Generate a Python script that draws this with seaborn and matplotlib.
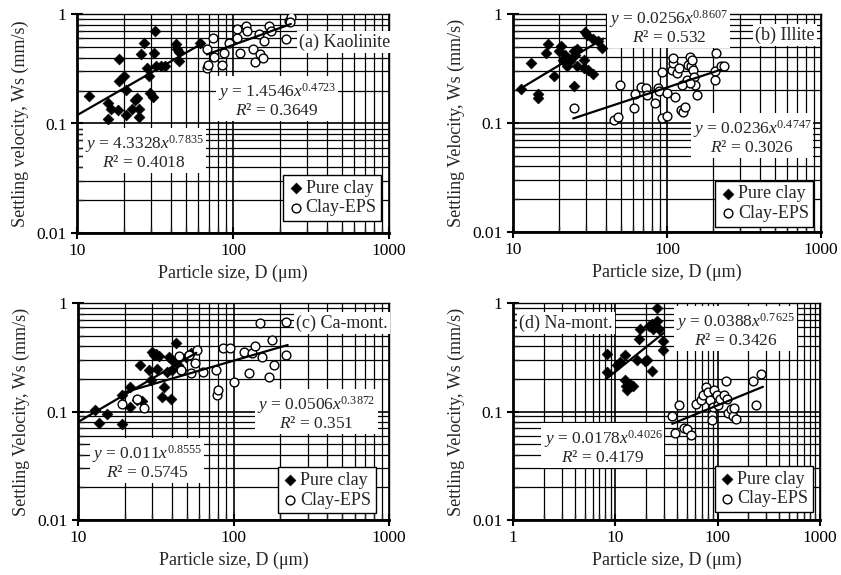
import numpy as np
import pandas as pd
import matplotlib
matplotlib.use('Agg')
import matplotlib.pyplot as plt
import matplotlib.ticker as mticker
import seaborn as sns

sns.set_theme(style='white')
plt.rcParams['font.family'] = ['Liberation Serif', 'DejaVu Serif']
plt.rcParams['mathtext.fontset'] = 'custom'
plt.rcParams['mathtext.rm'] = 'Liberation Serif'
plt.rcParams['mathtext.it'] = 'Liberation Serif:italic'

# (a) Kaolinite
kao_pure_d = [11.9, 15.9, 16.4, 15.7, 18.2, 18.5, 18.5, 20.1, 20.6, 20.5, 22.5, 23.7, 24.1, 24.9, 25.0,
              25.8, 26.7, 28.1, 28.9, 29.2, 30.7, 31.0, 31.5, 32.3, 34.3, 36.5, 43, 44, 45.3, 45.3, 61.7]
kao_pure_ws = [0.179, 0.153, 0.137, 0.111, 0.133, 0.39, 0.243, 0.27, 0.203, 0.119, 0.137, 0.164, 0.17, 0.115, 0.137,
               0.427, 0.548, 0.322, 0.27, 0.189, 0.176, 0.443, 0.70, 0.334, 0.334, 0.338, 0.529, 0.482, 0.371, 0.449, 0.548]
kao_eps_d = [68, 68, 69.5, 74.5, 75.9, 85.3, 87.4, 94.2, 106.7, 106.7, 110.8, 120.8, 123.6, 133.6, 138,
             147.5, 150, 155, 158.7, 171, 176, 220, 227, 235, 233]
kao_eps_ws = [0.482, 0.322, 0.345, 0.609, 0.407, 0.345, 0.443, 0.548, 0.737, 0.609, 0.443, 0.77, 0.70, 0.476, 0.363,
              0.654, 0.427, 0.40, 0.568, 0.78, 0.70, 0.596, 0.868, 0.93, 0.838]
kao_pure_fit_d, kao_pure_fit_ws = [10, 64.8], [0.119, 0.548]
kao_eps_fit_d, kao_eps_fit_ws = [68, 235], [0.427, 0.81]

# (b) Illite
ill_pure_d = [11.3, 13, 14.6, 14.6, 16.3, 16.9, 18.4, 19.9, 20.4, 21.2, 21.7, 22.5, 23.4, 24.9, 25.2,
              25.9, 24.9, 25.9, 28.7, 28.9, 29.3, 30.1, 30.8, 32.9, 33.2, 35.8, 37.7]
ill_pure_ws = [0.204, 0.356, 0.183, 0.168, 0.44, 0.526, 0.271, 0.456, 0.508, 0.382, 0.425, 0.331, 0.369, 0.456, 0.425,
               0.331, 0.219, 0.473, 0.382, 0.32, 0.686, 0.638, 0.308, 0.283, 0.594, 0.565, 0.49]
ill_eps_d = [24.9, 45.4, 48.4, 49.5, 61.2, 62, 67.6, 73.3, 74, 83.2, 87, 89.2, 92.7, 92.7, 100, 100, 108, 109,
             109, 113, 116, 119, 123, 127, 131, 135, 136, 140, 143, 146, 148, 150, 153, 157, 206, 206, 209,
             225, 234, 142, 125]
ill_eps_ws = [0.136, 0.107, 0.114, 0.224, 0.136, 0.183, 0.213, 0.208, 0.181, 0.151, 0.208, 0.198, 0.291, 0.112,
              0.116, 0.188, 0.308, 0.356, 0.396, 0.174, 0.288, 0.32, 0.131, 0.126, 0.141, 0.249, 0.343, 0.404,
              0.331, 0.382, 0.308, 0.267, 0.224, 0.181, 0.249, 0.298, 0.44, 0.331, 0.331, 0.235, 0.224]
ill_pure_fit_d, ill_pure_fit_ws = [10.8, 38.6], [0.201, 0.594]
ill_eps_fit_d, ill_eps_fit_ws = [24.6, 223], [0.11, 0.308]

# (c) Ca-montmorillonite
ca_pure_d = [12.8, 13.7, 15.3, 19.2, 19.2, 21.5, 21.5, 24, 25.2, 25.8, 28.6, 29.4, 30, 30.8, 31.6, 32.4, 33.2,
             34.9, 35.9, 37.6, 38.6, 39.5, 40.5, 42.7, 43.8, 46, 49.7, 53.4, 40.5]
ca_pure_ws = [0.104, 0.078, 0.095, 0.076, 0.141, 0.168, 0.11, 0.128, 0.267, 0.126, 0.24, 0.194, 0.356, 0.331,
              0.338, 0.249, 0.324, 0.136, 0.168, 0.232, 0.315, 0.131, 0.298, 0.425, 0.267, 0.24, 0.32, 0.343, 0.24]
ca_eps_d = [19.2, 24, 26.5, 44.9, 46, 52, 56.3, 58.4, 53.4, 63.6, 76.7, 77.9, 79.9, 86.1, 95, 100, 116, 126,
            131, 138, 149, 153, 169, 176, 181, 219, 219]
ca_eps_ws = [0.118, 0.131, 0.107, 0.324, 0.243, 0.331, 0.277, 0.369, 0.224, 0.232, 0.24, 0.141, 0.159, 0.382,
             0.382, 0.187, 0.356, 0.224, 0.348, 0.402, 0.652, 0.32, 0.208, 0.456, 0.267, 0.331, 0.662]
ca_pure_fit_d, ca_pure_fit_ws = [10, 57.7], [0.080, 0.348]
ca_eps_fit_d, ca_eps_fit_ws = [19.2, 223], [0.148, 0.41]

# (d) Na-montmorillonite
na_pure_d = [8.28, 8.28, 10.4, 11, 12.3, 12.3, 12.8, 13, 13.8, 14.9, 16.3, 17, 17.6, 19.7, 21.3, 23, 23.4,
             25.3, 25.3, 26.5, 29.4, 29.4, 20.5, 23]
na_pure_ws = [0.341, 0.233, 0.269, 0.283, 0.334, 0.195, 0.171, 0.157, 0.179, 0.171, 0.3, 0.461, 0.571, 0.289,
              0.614, 0.238, 0.58, 0.89, 0.684, 0.571, 0.444, 0.366, 0.3, 0.636]
na_eps_d = [36, 38, 42, 47, 50.7, 54.5, 61.2, 68.3, 72.4, 76.5, 79.8, 84.3, 87.1, 87.1, 89.3, 92.5, 98.5, 101,
            106, 116, 121, 123, 125, 135, 140, 145, 150, 221, 238, 267]
na_eps_ws = [0.09, 0.063, 0.116, 0.071, 0.069, 0.061, 0.118, 0.127, 0.141, 0.169, 0.152, 0.127, 0.092, 0.083,
             0.110, 0.157, 0.141, 0.114, 0.131, 0.141, 0.192, 0.131, 0.097, 0.106, 0.09, 0.108, 0.085, 0.192,
             0.116, 0.222]
na_pure_fit_d, na_pure_fit_ws = [8.28, 29.9], [0.202, 0.532]
na_eps_fit_d, na_eps_fit_ws = [36, 277], [0.077, 0.169]


def eq(a, b, r2):
    return '$y$ = ' + a + r'$x^{\mathrm{' + b + '}}$\n' + '$R$² = ' + r2


panels = [
    dict(box=(77, 14, 389, 233), xlim=(10, 1000), ylabel='Settling velocity, Ws (mm/s)', name='(a) Kaolinite',
         name_pos=(0.859, 0.872),
         pure=(kao_pure_d, kao_pure_ws), eps=(kao_eps_d, kao_eps_ws),
         pure_fit=(kao_pure_fit_d, kao_pure_fit_ws), eps_fit=(kao_eps_fit_d, kao_eps_fit_ws),
         pure_eq=(eq('4.3328', '0.7835', '0.4018'), 0.215, 0.37),
         eps_eq=(eq('1.4546', '0.4723', '0.3649'), 0.641, 0.607),
         leg=(0.975, 0.055)),
    dict(box=(513, 14, 821, 232), xlim=(10, 1000), ylabel='Settling Velocity, Ws (mm/s)', name='(b) Illite',
         name_pos=(0.883, 0.904),
         pure=(ill_pure_d, ill_pure_ws), eps=(ill_eps_d, ill_eps_ws),
         pure_fit=(ill_pure_fit_d, ill_pure_fit_ws), eps_fit=(ill_eps_fit_d, ill_eps_fit_ws),
         pure_eq=(eq('0.0256', '0.8607', '0.532'), 0.506, 0.94),
         eps_eq=(eq('0.0236', '0.4747', '0.3026'), 0.776, 0.436),
         leg=(0.975, 0.025)),
    dict(box=(78, 303, 389, 520), xlim=(10, 1000), ylabel='Settling Velocity, Ws (mm/s)', name='(c) Ca-mont.',
         name_pos=(0.849, 0.908),
         pure=(ca_pure_d, ca_pure_ws), eps=(ca_eps_d, ca_eps_ws),
         pure_fit=(ca_pure_fit_d, ca_pure_fit_ws), eps_fit=(ca_eps_fit_d, ca_eps_fit_ws),
         pure_eq=(eq('0.011', '0.8555', '0.5745'), 0.222, 0.267),
         eps_eq=(eq('0.0506', '0.3872', '0.351'), 0.767, 0.493),
         leg=(0.958, 0.032)),
    dict(box=(513, 303, 820, 520), xlim=(1, 1000), ylabel='Settling Velocity, Ws (mm/s)', name='(d) Na-mont.',
         name_pos=(0.173, 0.908),
         pure=(na_pure_d, na_pure_ws), eps=(na_eps_d, na_eps_ws),
         pure_fit=(na_pure_fit_d, na_pure_fit_ws), eps_fit=(na_eps_fit_d, na_eps_fit_ws),
         pure_eq=(eq('0.0388', '0.7625', '0.3426'), 0.726, 0.876),
         eps_eq=(eq('0.0178', '0.4026', '0.4179'), 0.293, 0.336),
         leg=(0.977, 0.037)),
]

W, H = 841, 575
fig = plt.figure(figsize=(W / 100, H / 100), dpi=100)
fig.patch.set_facecolor('white')

txt_box = dict(facecolor='white', edgecolor='none', pad=1.5)

for p in panels:
    x0, y0, x1, y1 = p['box']
    ax = fig.add_axes([x0 / W, 1 - y1 / H, (x1 - x0) / W, (y1 - y0) / H])
    ax.set_xscale('log')
    ax.set_yscale('log')
    ax.set_xlim(*p['xlim'])
    ax.set_ylim(0.01, 1)

    pure = pd.DataFrame({'D': p['pure'][0], 'Ws': p['pure'][1]})
    eps = pd.DataFrame({'D': p['eps'][0], 'Ws': p['eps'][1]})
    sns.scatterplot(data=pure, x='D', y='Ws', ax=ax, marker='D', s=30, color='black',
                    edgecolor='black', linewidth=0.5, label='Pure clay', zorder=5)
    sns.scatterplot(data=eps, x='D', y='Ws', ax=ax, marker='o', s=40, color='white',
                    edgecolor='black', linewidth=1.0, label='Clay-EPS', zorder=5)
    sns.lineplot(x=p['pure_fit'][0], y=p['pure_fit'][1], ax=ax, color='black', lw=1.6, zorder=6)
    sns.lineplot(x=p['eps_fit'][0], y=p['eps_fit'][1], ax=ax, color='black', lw=1.6, zorder=6)

    ax.grid(True, which='major', color='black', linewidth=1.2)
    ax.grid(True, which='minor', color='black', linewidth=0.9)
    ax.set_axisbelow(True)

    yt = [0.01, 0.1, 1]
    ax.yaxis.set_major_locator(mticker.FixedLocator(yt))
    ax.set_yticklabels(['0.01', '0.1', '1'])
    xt = [v for v in [1, 10, 100, 1000] if v >= p['xlim'][0]]
    ax.xaxis.set_major_locator(mticker.FixedLocator(xt))
    ax.set_xticklabels([str(v) for v in xt])
    ax.xaxis.set_minor_formatter(mticker.NullFormatter())
    ax.yaxis.set_minor_formatter(mticker.NullFormatter())
    ax.tick_params(which='major', direction='inout', length=8, width=1.5, labelsize=12.5,
                   left=True, bottom=True, colors='black')
    ax.tick_params(which='minor', direction='in', length=4, width=1, left=True, bottom=True)
    for s in ['left', 'bottom']:
        ax.spines[s].set_linewidth(2)
        ax.spines[s].set_color('black')
    for s in ['top', 'right']:
        ax.spines[s].set_linewidth(1)
        ax.spines[s].set_color('black')

    ax.set_xlabel('Particle size, D (μm)', fontsize=13, labelpad=4)
    ax.set_ylabel(p['ylabel'], fontsize=13, labelpad=5)

    for t, tx, ty in [p['pure_eq'], p['eps_eq']]:
        ax.text(tx, ty, t, transform=ax.transAxes, ha='center', va='center', fontsize=12.5,
                multialignment='center', linespacing=1.05, bbox=txt_box, zorder=4)
    ax.text(p['name_pos'][0], p['name_pos'][1], p['name'], transform=ax.transAxes, ha='center',
            va='center', fontsize=13, bbox=txt_box, zorder=4)

    h, l = ax.get_legend_handles_labels()
    leg = ax.legend(h[:2], l[:2], loc='lower right', bbox_to_anchor=p['leg'], borderaxespad=0,
                    fontsize=13, frameon=True, fancybox=False, framealpha=1, edgecolor='black',
                    handletextpad=0.1, handlelength=0.9, borderpad=0.25, labelspacing=0.15)
    leg.get_frame().set_linewidth(1.0)
    leg.set_zorder(7)

fig.savefig('out.png', dpi=100, facecolor='white')
